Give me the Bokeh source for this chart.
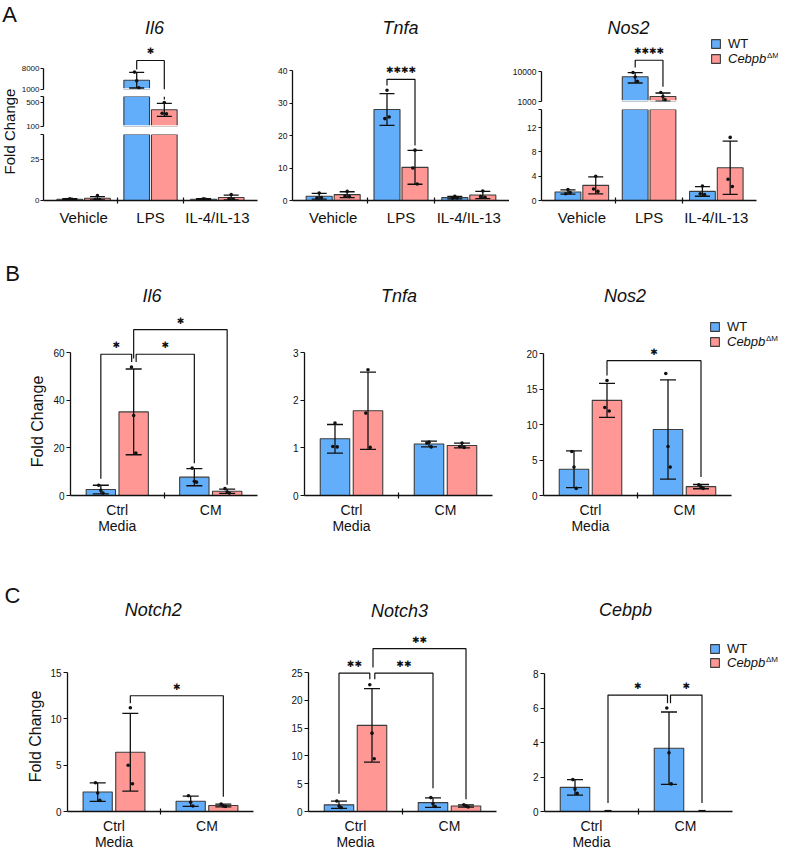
import math
from bokeh.plotting import figure
from bokeh.layouts import row, column
from bokeh.models import (FixedTicker, Range1d, Label, Legend, LegendItem,
                          BasicTickFormatter)
from bokeh.core.properties import value
from bokeh.embed import file_html
from bokeh.resources import INLINE

# ======================= data =======================
A_categories = ["Vehicle", "LPS", "IL-4/IL-13"]
BC_categories = ["Ctrl\nMedia", "CM"]

# ---- A : Il6 (broken axis)
il6_a_wt = [0.8, 4100, 0.8]
il6_a_wt_sd = [0.3, 2600, 0.25]
il6_a_wt_pts = [[1.1, 0.6, 0.7], [3900, 6800, 1600], [1.0, 0.6, 0.8]]
il6_a_ko = [1.4, 378, 1.8]
il6_a_ko_sd = [1.0, 108, 1.5]
il6_a_ko_pts = [[3.0, 0.6, 0.6], [500, 320, 310], [3.6, 1.1, 0.8]]
# (cat_a, series_a, nudge_a, cat_b, series_b, nudge_b, level, leg_a, leg_b, text)
il6_a_sig = [(1, 0, 0, 1, 1, 0, 10667, 7667, 550, "✱")]

# ---- A : Tnfa
tnfa_a_wt = [1.3, 28.0, 0.9]
tnfa_a_wt_sd = [0.9, 4.9, 0.4]
tnfa_a_wt_pts = [[2.3, 0.8, 0.9], [33.9, 25.2, 25.7], [1.3, 0.7, 0.8]]
tnfa_a_ko = [1.8, 10.2, 1.7]
tnfa_a_ko_sd = [0.9, 5.2, 1.1]
tnfa_a_ko_pts = [[2.8, 1.4, 1.2], [15.5, 10.0, 5.1], [2.9, 1.2, 1.0]]
tnfa_a_sig = [(1, 0, 0, 1, 1, 0, 37.3, 35.4, 16.9, "✱✱✱✱")]

# ---- A : Nos2 (broken axis, log upper part)
nos2_a_wt = [1.4, 6800, 1.5]
nos2_a_wt_sd = [0.35, 2600, 0.8]
nos2_a_wt_pts = [[1.8, 1.1, 1.3], [6700, 9500, 4800], [2.4, 1.1, 1.0]]
nos2_a_ko = [2.5, 1480, 5.4]
nos2_a_ko_sd = [1.4, 450, 4.4]
nos2_a_ko_pts = [[4.0, 1.9, 1.5], [1470, 2000, 1140], [10.4, 3.5, 2.3]]
nos2_a_sig = [(1, 0, 0, 1, 1, 0, 24500, 13970, 3125, "✱✱✱✱")]

# ---- B : Il6
il6_b_wt = [2.5, 7.7]
il6_b_wt_sd = [1.8, 3.6]
il6_b_wt_pts = [[2.2, 4.3, 1.0], [6.0, 11.5, 5.6]]
il6_b_ko = [35.1, 1.8]
il6_b_ko_sd = [18.0, 0.9]
il6_b_ko_pts = [[33.6, 53.9, 17.8], [1.5, 2.9, 1.0]]
il6_b_sig = [(0, 0, 0, 0, 1, -2.0, 59.3, 7.0, 56.0, "✱"),
             (0, 1, 2.5, 1, 0, 0, 59.3, 56.0, 13.5, "✱"),
             (0, 1, 0, 1, 1, 0, 69.6, 57.5, 4.5, "✱")]

# ---- B : Tnfa
tnfa_b_wt = [1.19, 1.08]
tnfa_b_wt_sd = [0.30, 0.06]
tnfa_b_wt_pts = [[1.52, 1.03, 1.02], [1.12, 1.10, 1.02]]
tnfa_b_ko = [1.78, 1.05]
tnfa_b_ko_sd = [0.81, 0.05]
tnfa_b_ko_pts = [[2.64, 1.73, 1.01], [1.10, 1.03, 1.01]]
tnfa_b_sig = []

# ---- B : Nos2
nos2_b_wt = [3.7, 9.3]
nos2_b_wt_sd = [2.6, 7.0]
nos2_b_wt_pts = [[4.0, 6.2, 1.0], [6.9, 17.2, 4.0]]
nos2_b_ko = [13.4, 1.25]
nos2_b_ko_sd = [2.4, 0.3]
nos2_b_ko_pts = [[16.2, 12.4, 11.9], [1.2, 1.5, 1.0]]
nos2_b_sig = [(0, 1, 0, 1, 1, 0, 19.0, 16.9, 2.6, "✱")]

# ---- C : Notch2
notch2_wt = [2.1, 1.1]
notch2_wt_sd = [1.0, 0.55]
notch2_wt_pts = [[2.0, 3.1, 1.2], [1.0, 1.7, 0.6]]
notch2_ko = [6.4, 0.65]
notch2_ko_sd = [4.2, 0.15]
notch2_ko_pts = [[11.2, 5.0, 3.0], [0.6, 0.8, 0.55]]
notch2_sig = [(0, 1, 0, 1, 1, 0, 12.5, 11.7, 1.6, "✱")]

# ---- C : Notch3
notch3_wt = [1.2, 1.6]
notch3_wt_sd = [0.65, 0.85]
notch3_wt_pts = [[1.0, 1.9, 0.7], [1.4, 2.5, 0.9]]
notch3_ko = [15.5, 1.0]
notch3_ko_sd = [6.6, 0.2]
notch3_ko_pts = [[14.1, 22.8, 9.5], [1.0, 1.2, 0.8]]
notch3_sig = [(0, 0, 0, 0, 1, -2.2, 24.9, 3.2, 23.8, "✱✱"),
              (0, 1, 2.8, 1, 0, 0, 24.9, 23.8, 4.2, "✱✱"),
              (0, 1, 1.0, 1, 1, 0, 29.3, 25.9, 2.2, "✱✱")]

# ---- C : Cebpb
cebpb_wt = [1.4, 3.67]
cebpb_wt_sd = [0.45, 2.1]
cebpb_wt_pts = [[1.3, 1.85, 1.05], [3.4, 6.0, 1.6]]
cebpb_ko = [0.0, 0.0]
cebpb_ko_sd = [0.0, 0.0]
cebpb_ko_pts = [[0.0, 0.0, 0.0], [0.0, 0.0, 0.0]]
cebpb_sig = [(0, 1, 0, 1, 0, -1.5, 6.75, 0.5, 6.27, "✱"),
             (1, 0, 1.5, 1, 1, 0, 6.75, 6.27, 0.5, "✱")]

# ============================ styling ============================
BLUE = "#63AEFA"
RED = "#FF9894"
EDGE = "#3c3c3c"
INK = "#111111"
FONT = "Liberation Sans"
JITTER = [0.0, -2.2, 2.2]   # px

GEO_A = dict(off=14 / 67.8, bw=26 / 67.8, ppu=67.8, cap=15)
GEO_BC = dict(off=16.5 / 94, bw=29.5 / 94, ppu=94.0, cap=16)
A_X = (-0.6, 2.6)
BC_X = (-0.5, 1.5)


def make_fig(w, h, bl, br, bt, bb, xr, yr, log=False, xaxis=True):
    p = figure(width=w, height=h, x_range=Range1d(*xr), y_range=Range1d(*yr),
               y_axis_type="log" if log else "linear",
               x_axis_location="below" if xaxis else None,
               output_backend="svg", toolbar_location=None,
               min_border_left=bl, min_border_right=br,
               min_border_top=bt, min_border_bottom=bb)
    p.outline_line_color = None
    p.xgrid.visible = False
    p.ygrid.visible = False
    p.background_fill_color = "white"
    p.border_fill_color = "white"
    return p


def gutter(w, h, bb):
    # same bottom border as the neighbouring plots, so the frames line up
    p = figure(width=w, height=h, x_range=Range1d(0, 1), y_range=Range1d(0, 1),
               x_axis_location=None, y_axis_location=None,
               output_backend="svg", toolbar_location=None,
               min_border_left=0, min_border_right=0,
               min_border_top=0, min_border_bottom=bb)
    p.outline_line_color = None
    p.xgrid.visible = False
    p.ygrid.visible = False
    return p


def style_y(p, ticks, bounds, fs, blanks=(), tick_out=4, standoff=2):
    ax = p.yaxis[0]
    ax.ticker = FixedTicker(ticks=ticks)
    ax.bounds = bounds
    ax.formatter = BasicTickFormatter(use_scientific=False)
    if blanks:
        ax.major_label_overrides = {b: "" for b in blanks}
    ax.axis_line_color = INK
    ax.axis_line_width = 1.3
    ax.major_tick_line_color = INK
    ax.major_tick_line_width = 1.2
    ax.major_tick_out = tick_out
    ax.major_tick_in = 0
    ax.minor_tick_line_color = None
    ax.major_label_standoff = standoff
    ax.major_label_text_font = FONT
    ax.major_label_text_font_size = fs
    ax.major_label_text_color = INK


def style_x(p, cats, bounds, fs, standoff=4, lh=1.2):
    ax = p.xaxis[0]
    n = len(cats)
    ax.ticker = FixedTicker(ticks=list(range(n)),
                            minor_ticks=[k + 0.5 for k in range(n - 1)])
    ax.major_label_overrides = {k: c for k, c in enumerate(cats)}
    ax.bounds = bounds
    ax.axis_line_color = INK
    ax.axis_line_width = 1.3
    ax.major_tick_line_color = None
    ax.major_tick_out = 0
    ax.major_tick_in = 0
    ax.minor_tick_line_color = INK
    ax.minor_tick_line_width = 1.2
    ax.minor_tick_in = 3
    ax.minor_tick_out = 3
    ax.major_label_standoff = standoff
    ax.major_label_text_font = FONT
    ax.major_label_text_font_size = fs
    ax.major_label_text_color = INK
    ax.major_label_text_line_height = lh


def bar_x(cat, s, geo):
    return cat + (-1 if s == 0 else 1) * geo["off"]


def vpiece(lo, hi, ylo, yhi):
    a, b = max(min(lo, hi), ylo), min(max(lo, hi), yhi)
    return (a, b) if a < b else None


def draw_data(p, geo, wt, wt_sd, wt_pts, ko, ko_sd, ko_pts, sig, ylo, yhi):
    """Draw only what falls inside this (segment's) value window ylo..yhi."""
    inside = lambda v: ylo <= v <= yhi
    rends = []
    for s, (m, sd, pts, col) in enumerate(((wt, wt_sd, wt_pts, BLUE),
                                           (ko, ko_sd, ko_pts, RED))):
        xs = [bar_x(i, s, geo) for i in range(len(m))]
        keep = [i for i in range(len(m)) if m[i] >= ylo]
        r = p.vbar(x=[xs[i] for i in keep], top=[m[i] for i in keep],
                   bottom=[ylo] * len(keep), width=geo["bw"],
                   fill_color=col, line_color=EDGE, line_width=1.1)
        rends.append(r)
        if ylo > 0 and keep:
            # the bar continues below this broken-axis segment: open its base
            half = geo["bw"] / 2 + 1.5 / geo["ppu"]
            p.segment(x0=[xs[i] - half for i in keep], y0=[ylo] * len(keep),
                      x1=[xs[i] + half for i in keep], y1=[ylo] * len(keep),
                      line_color="white", line_width=2.4)
        ex, e0, e1, cx, cy = [], [], [], [], []
        for i in range(len(m)):
            if sd[i] <= 0:
                continue
            lo, hi = m[i] - sd[i], m[i] + sd[i]
            pc = vpiece(lo, hi, ylo, yhi)
            if pc:
                ex.append(xs[i]); e0.append(pc[0]); e1.append(pc[1])
            for v in (lo, hi):
                if inside(v):
                    cx.append(xs[i]); cy.append(v)
        if ex:
            p.segment(x0=ex, y0=e0, x1=ex, y1=e1, line_color=INK, line_width=1.3)
        if cx:
            p.scatter(x=cx, y=cy, marker="dash", size=geo["cap"],
                      line_color=INK, line_width=1.3)
        px, py = [], []
        for i in range(len(m)):
            for j, v in enumerate(pts[i]):
                if inside(v):
                    px.append(xs[i] + JITTER[j] / geo["ppu"])
                    py.append(v)
        if px:
            p.scatter(x=px, y=py, marker="circle", size=3.6,
                      fill_color=INK, line_color=None)
    for (ca, sa, na, cb, sb, nb, lev, la, lb, txt) in sig:
        xa = bar_x(ca, sa, geo) + na / geo["ppu"]
        xb = bar_x(cb, sb, geo) + nb / geo["ppu"]
        if inside(lev) and inside(la) and inside(lb):
            p.line(x=[xa, xa, xb, xb], y=[la, lev, lev, lb], line_color=INK,
                   line_width=1.2)
        else:
            if inside(lev):
                p.line(x=[xa, xb], y=[lev, lev], line_color=INK, line_width=1.2)
            for xx, leg in ((xa, la), (xb, lb)):
                pc = vpiece(leg, lev, ylo, yhi)
                if pc:
                    p.line(x=[xx, xx], y=list(pc), line_color=INK,
                           line_width=1.2)
        if inside(lev):
            p.text(x=[(xa + xb) / 2], y=[lev], text=[txt], text_align="center",
                   text_baseline="middle", y_offset=-9,
                   text_font=value("DejaVu Sans"), text_font_size="9px",
                   text_color=INK)
    return rends


def add_label(p, frame, txt, X, Y, size, angle=0.0, style="normal",
              align="center", baseline="middle"):
    """X, Y are page pixel positions; frame = (left, bottom) of p's frame."""
    p.add_layout(Label(x=X - frame[0], y=frame[1] - Y, x_units="screen",
                       y_units="screen", text=txt, angle=angle, text_font=FONT,
                       text_font_size=size, text_font_style=style,
                       text_align=align, text_baseline=baseline,
                       text_color=INK))


SQ = 11


def add_legend(p, frame, rends, sq_left, wt_top, ko_top):
    fl, fb = frame
    for rend, lab, sty, top in ((rends[0], "WT", "normal", wt_top),
                                (rends[1], "Cebpb", "italic", ko_top)):
        lg = Legend(items=[LegendItem(label=lab, renderers=[rend])],
                    location=(sq_left - fl, fb - (top + SQ)),
                    padding=0, margin=0, spacing=0, border_line_color=None,
                    background_fill_alpha=0, glyph_width=SQ, glyph_height=SQ,
                    label_height=SQ, label_standoff=7, label_text_font=FONT,
                    label_text_font_size="13px", label_text_font_style=sty,
                    label_text_color=INK)
        p.add_layout(lg)
    add_label(p, frame, "ΔM", sq_left + SQ + 7 + 38.5, ko_top - 5, "8px",
              align="left", baseline="top")


# ================================ Row A ================================
# page rows: A 8..240, B 240..545, C 545..860
gA = gutter(18, 232, 32)
add_label(gA, (8, 208), "A", 17, 22, "22px")
add_label(gA, (8, 208), "Fold Change", 17, 139, "15px", angle=math.pi / 2)

# Il6: three stacked segments (frames 8..97, 104..134, 142..208)
IL6_TOP = 1000 + 89 * 7000 / 21
il6_top = make_fig(249, 96, 22, 10, 0, 7, A_X, (1000, IL6_TOP), xaxis=False)
style_y(il6_top, [1000, 8000], (1000, 8000), "8px", tick_out=3, standoff=1)
draw_data(il6_top, GEO_A, il6_a_wt, il6_a_wt_sd, il6_a_wt_pts, il6_a_ko,
          il6_a_ko_sd, il6_a_ko_pts, il6_a_sig, 1000, IL6_TOP)
add_label(il6_top, (48, 97), "Il6", 159, 35, "18px", style="italic")

il6_mid = make_fig(249, 38, 22, 10, 0, 8, A_X, (100, 600), xaxis=False)
style_y(il6_mid, [100, 500, 600], (100, 600), "8px", blanks=[600], tick_out=3,
        standoff=1)
draw_data(il6_mid, GEO_A, il6_a_wt, il6_a_wt_sd, il6_a_wt_pts, il6_a_ko,
          il6_a_ko_sd, il6_a_ko_pts, il6_a_sig, 100, 600)

il6_low = make_fig(249, 98, 22, 10, 0, 32, A_X, (0, 40))
style_y(il6_low, [0, 25, 40], (0, 40), "8px", blanks=[40], tick_out=3,
        standoff=1)
style_x(il6_low, A_categories, A_X, "15px", standoff=5)
draw_data(il6_low, GEO_A, il6_a_wt, il6_a_wt_sd, il6_a_wt_pts, il6_a_ko,
          il6_a_ko_sd, il6_a_ko_pts, il6_a_sig, 0, 40)

TNFA_A_TOP = 200 / 3.25
tnfa_a = make_fig(242, 232, 25, 0, 0, 32, A_X, (0, TNFA_A_TOP))
style_y(tnfa_a, [0, 10, 20, 30, 40], (0, 40), "8.5px", tick_out=3)
style_x(tnfa_a, A_categories, A_X, "15px", standoff=5)
draw_data(tnfa_a, GEO_A, tnfa_a_wt, tnfa_a_wt_sd, tnfa_a_wt_pts, tnfa_a_ko,
          tnfa_a_ko_sd, tnfa_a_ko_pts, tnfa_a_sig, 0, TNFA_A_TOP)
add_label(tnfa_a, (300, 208), "Tnfa", 408, 35, "18px", style="italic")

# Nos2: two stacked segments (frames 8..109 log, 117..208 linear)
NOS2_A_X = (-0.6, -0.6 + 239 / 67.8)
NOS2_TOP = 10 ** (3 + 101 / 29.7)
nos2_top = make_fig(269, 109, 30, 0, 0, 8, NOS2_A_X, (1000, NOS2_TOP), log=True,
                    xaxis=False)
style_y(nos2_top, [1000, 10000], (1000, 10000), "8.5px", tick_out=3)
r_nos2a = draw_data(nos2_top, GEO_A, nos2_a_wt, nos2_a_wt_sd, nos2_a_wt_pts,
                    nos2_a_ko, nos2_a_ko_sd, nos2_a_ko_pts, nos2_a_sig,
                    1000, NOS2_TOP)
add_label(nos2_top, (547, 109), "Nos2", 634, 35, "18px", style="italic")
add_legend(nos2_top, (547, 109), r_nos2a, 716, 48, 63)

nos2_low = make_fig(269, 123, 30, 0, 0, 32, NOS2_A_X, (0, 15))
style_y(nos2_low, [0, 4, 8, 12, 15], (0, 15), "8.5px", blanks=[15], tick_out=3)
style_x(nos2_low, A_categories, A_X, "15px", standoff=5)
draw_data(nos2_low, GEO_A, nos2_a_wt, nos2_a_wt_sd, nos2_a_wt_pts, nos2_a_ko,
          nos2_a_ko_sd, nos2_a_ko_pts, nos2_a_sig, 0, 15)

row_a = row(gA, column(il6_top, il6_mid, il6_low), tnfa_a,
            column(nos2_top, nos2_low))

# ================================ Row B ================================
gB = gutter(50, 305, 40)
add_label(gB, (8, 505), "B", 20, 283, "22px")
add_label(gB, (8, 505), "Fold Change", 45, 431, "16px", angle=math.pi / 2)

IL6_B_TOP = 265 / 2.4
il6_b = make_fig(227, 305, 19, 20, 0, 40, BC_X, (0, IL6_B_TOP))
style_y(il6_b, [0, 20, 40, 60], (0, 60), "10px")
style_x(il6_b, BC_categories, BC_X, "14px", standoff=3, lh=1.05)
draw_data(il6_b, GEO_BC, il6_b_wt, il6_b_wt_sd, il6_b_wt_pts, il6_b_ko,
          il6_b_ko_sd, il6_b_ko_pts, il6_b_sig, 0, IL6_B_TOP)
add_label(il6_b, (77, 505), "Il6", 158.5, 305, "18px", style="italic")

TNFA_B_TOP = 265 / 48.0
tnfa_b = make_fig(235, 305, 27, 20, 0, 40, BC_X, (0, TNFA_B_TOP))
style_y(tnfa_b, [0, 1, 2, 3], (0, 3), "10px")
style_x(tnfa_b, BC_categories, BC_X, "14px", standoff=3, lh=1.05)
draw_data(tnfa_b, GEO_BC, tnfa_b_wt, tnfa_b_wt_sd, tnfa_b_wt_pts, tnfa_b_ko,
          tnfa_b_ko_sd, tnfa_b_ko_pts, tnfa_b_sig, 0, TNFA_B_TOP)
add_label(tnfa_b, (312, 505), "Tnfa", 406.5, 305, "18px", style="italic")

NOS2_B_TOP = 265 / 7.15
nos2_b = make_fig(266, 305, 31, 0, 0, 40, (-0.5, -0.5 + 235 / 94), (0, NOS2_B_TOP))
style_y(nos2_b, [0, 5, 10, 15, 20], (0, 20), "10px")
style_x(nos2_b, BC_categories, BC_X, "14px", standoff=3, lh=1.05)
r_nos2b = draw_data(nos2_b, GEO_BC, nos2_b_wt, nos2_b_wt_sd, nos2_b_wt_pts,
                    nos2_b_ko, nos2_b_ko_sd, nos2_b_ko_pts, nos2_b_sig, 0,
                    NOS2_B_TOP)
add_label(nos2_b, (551, 505), "Nos2", 632.5, 305, "18px", style="italic")
add_legend(nos2_b, (551, 505), r_nos2b, 717, 333, 348)

row_b = row(gB, il6_b, tnfa_b, nos2_b)

# ================================ Row C ================================
gC = gutter(47, 315, 31)
add_label(gC, (8, 829), "C", 20, 613, "22px")
add_label(gC, (8, 829), "Fold Change", 43, 754, "16px", angle=math.pi / 2)

N2_TOP = 284 / 9.6
notch2 = make_fig(230, 315, 18, 24, 0, 31, BC_X, (0, N2_TOP))
style_y(notch2, [0, 5, 10, 15], (0, 15), "10px")
style_x(notch2, BC_categories, BC_X, "14px", standoff=3, lh=1.0)
draw_data(notch2, GEO_BC, notch2_wt, notch2_wt_sd, notch2_wt_pts, notch2_ko,
          notch2_ko_sd, notch2_ko_pts, notch2_sig, 0, N2_TOP)
add_label(notch2, (73, 829), "Notch2", 158.8, 627, "18px", style="italic")

N3_TOP = 284 / 5.76
notch3 = make_fig(239, 315, 31, 20, 0, 31, BC_X, (0, N3_TOP))
style_y(notch3, [0, 5, 10, 15, 20, 25], (0, 25), "10px")
style_x(notch3, BC_categories, BC_X, "14px", standoff=3, lh=1.0)
draw_data(notch3, GEO_BC, notch3_wt, notch3_wt_sd, notch3_wt_pts, notch3_ko,
          notch3_ko_sd, notch3_ko_pts, notch3_sig, 0, N3_TOP)
add_label(notch3, (316, 829), "Notch3", 407, 628, "18px", style="italic")

CEB_TOP = 284 / 17.875
cebpb = make_fig(262, 315, 28, 0, 0, 31, (-0.5, -0.5 + 234 / 94), (0, CEB_TOP))
style_y(cebpb, [0, 2, 4, 6, 8], (0, 8), "10px")
style_x(cebpb, BC_categories, BC_X, "14px", standoff=3, lh=1.0)
r_ceb = draw_data(cebpb, GEO_BC, cebpb_wt, cebpb_wt_sd, cebpb_wt_pts, cebpb_ko,
                  cebpb_ko_sd, cebpb_ko_pts, cebpb_sig, 0, CEB_TOP)
add_label(cebpb, (552, 829), "Cebpb", 633, 627, "18px", style="italic")
add_legend(cebpb, (552, 829), r_ceb, 717, 663, 677)

row_c = row(gC, notch2, notch3, cebpb)

layout = column(row_a, row_b, row_c)
open("out.html", "w").write(file_html(layout, INLINE))
